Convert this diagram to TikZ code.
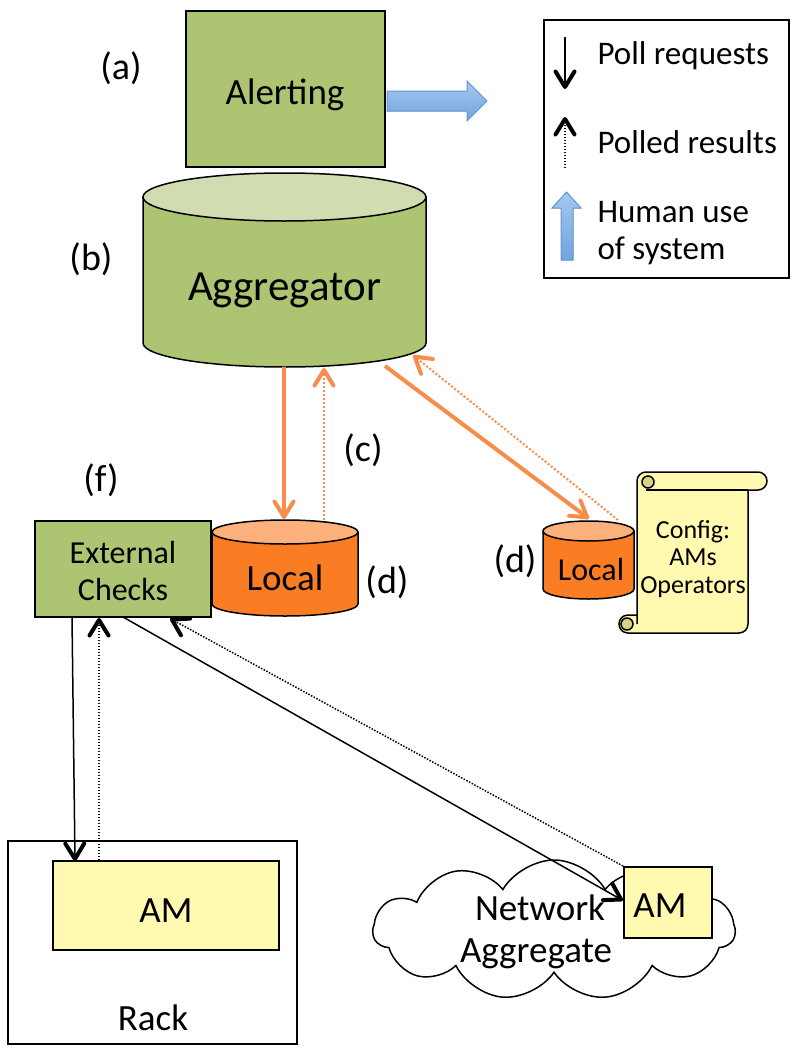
\documentclass[tikz,border=0pt]{standalone}
\usepackage{fontspec}
\setmainfont{Carlito}
\usetikzlibrary{decorations.markings,shapes.symbols}
\definecolor{boxgreen}{RGB}{173,196,114}
\definecolor{topgreen}{RGB}{209,221,176}
\definecolor{bodyorange}{RGB}{250,125,35}
\definecolor{toporange}{RGB}{252,176,124}
\definecolor{lineorange}{RGB}{247,140,75}
\definecolor{amyellow}{RGB}{255,250,176}
\definecolor{curl}{RGB}{215,210,140}
\definecolor{bluetop}{RGB}{165,200,238}
\definecolor{bluebot}{RGB}{112,164,222}
\definecolor{blueedge}{RGB}{100,150,210}
\newcommand{\drawcyl}[7]{%
  \filldraw[fill=#6, line width=1.5pt] ({#1-#4},#2) -- ({#1-#4},#3)
    arc[start angle=180,end angle=0,x radius=#4,y radius=#5] -- ({#1+#4},#2) -- cycle;
  \filldraw[fill=#7, line width=1.5pt] (#1,#2) ellipse[x radius=#4,y radius=#5];}
\tikzset{
  fa/.style={font=\fontsize{43}{50}\selectfont},
  fb/.style={font=\fontsize{37}{44}\selectfont},
  fc/.style={font=\fontsize{33}{37}\selectfont},
  fd/.style={font=\fontsize{32}{37}\selectfont},
  fe/.style={font=\fontsize{26}{27.5}\selectfont},
  flab/.style={font=\fontsize{38}{44}\selectfont},
  greenbox/.style={draw, line width=1.5pt, fill=boxgreen},
  yellowbox/.style={draw, line width=1.5pt, fill=amyellow},
  plainbox/.style={draw, line width=1.5pt},
  human/.style={draw=blueedge, line width=1pt, top color=bluetop, bottom color=bluebot},
  barbtip/.style={postaction={decorate, decoration={markings, mark=at position 1 with
     {\draw[solid, line width=4pt, draw=#1, line cap=round, line join=round]
       (-16.5pt,-9.5pt) -- (-1pt,0pt) -- (-16.5pt,9.5pt);}}}},
  reqline/.style={barbtip=black, line width=1.5pt, black},
  resline/.style={barbtip=black, line width=1.5pt, black, dash pattern=on 1.5pt off 1.5pt},
  oreq/.style={barbtip=lineorange, line width=4pt, lineorange},
  ores/.style={barbtip=lineorange, line width=2pt, lineorange, dash pattern=on 2pt off 2pt},
}
\begin{document}
\begin{tikzpicture}[x=1pt,y=-1pt]
\useasboundingbox (0,0) rectangle (810,1052);
% Alerting
\node[greenbox, minimum width=199pt, minimum height=156pt] (alert) at (285.5,89) {};
\node[fb, anchor=base] (alerttxt) at (285,104) {Alerting};
\filldraw[human] (387,91) -- (467,91) -- (467,81) -- (487,101) -- (467,121) -- (467,111) -- (387,111) -- cycle;
\node[flab] (la) at (121,68) {(a)};
% Aggregator
\drawcyl{284.5}{197}{343}{141.5}{24}{boxgreen}{topgreen}
\node[fa, anchor=base] (agg) at (284.5,300) {Aggregator};
\node[flab] (lb) at (91,259) {(b)};
% Local (left)
\drawcyl{285}{532}{604}{73}{12}{bodyorange}{toporange}
\node[fb, anchor=base] (local1) at (285,590) {Local};
\node[flab] (ld1) at (387,582) {(d)};
% Local (right)
\drawcyl{588.5}{531}{589}{45.5}{10}{bodyorange}{toporange}
\node[fd, anchor=base] (local2) at (591,580) {Local};
\node[flab] (ld2) at (515,561) {(d)};
\node[flab] (lc) at (363,450) {(c)};
% Scroll
\filldraw[fill=amyellow, line width=1.5pt] (637,624) -- (637,481) arc[start angle=180,end angle=270,radius=9]
  -- (758,472) arc[start angle=-90,end angle=90,radius=9] -- (748,490) -- (748,624)
  arc[start angle=0,end angle=90,radius=9] -- (628,633) arc[start angle=90,end angle=270,radius=9]
  -- (637,615) -- cycle;
\draw[line width=1.5pt] (646,490) -- (748,490);
\filldraw[fill=curl, line width=1.5pt] (648,482) circle[radius=6];
\filldraw[fill=curl, line width=1.5pt] (627,624) circle[radius=6];
\node[fe, anchor=base, align=center] (config) at (693,593) {Config:\\AMs\\Operators};
% External checks
\node[greenbox, minimum width=176pt, minimum height=96pt] (ext) at (123,569) {};
\node[fd, anchor=base, align=center] (exttxt) at (123,600) {External\\Checks};
\node[flab] (lf) at (101,480) {(f)};
% Rack
\node[plainbox, minimum width=289pt, minimum height=203pt] (rack) at (152.5,942.5) {};
\node[fb, anchor=base] (racktxt) at (153,1030) {Rack};
\node[yellowbox, minimum width=226pt, minimum height=89pt] (am1) at (166,905.5) {};
\node[fb, anchor=base] (am1txt) at (166,922) {AM};
% Cloud
\node[cloud, draw, line width=1.5pt, fill=white, cloud puffs=11, cloud puff arc=120, cloud ignores aspect,
  minimum width=362pt, minimum height=140pt] (cloud) at (554,930) {};
\node[fb, anchor=base] (nettxt) at (540,920) {Network};
\node[fb, anchor=base] (aggtxt) at (536,962) {Aggregate};
\node[yellowbox, minimum width=88pt, minimum height=71pt] (am2) at (668,902.5) {};
\node[fb, anchor=base] (am2txt) at (660,917) {AM};
% Legend
\node[plainbox, minimum width=245pt, minimum height=258pt] (legend) at (666.5,149) {};
\coordinate (lg1a) at (565,37); \coordinate (lg1b) at (565,88);
\coordinate (lg2a) at (565,168); \coordinate (lg2b) at (565,118);
\draw[reqline] (lg1a) -- (lg1b);
\draw[resline] (lg2a) -- (lg2b);
\filldraw[human] (561,260) -- (561,208) -- (552,208) -- (566.5,192) -- (581,208) -- (573,208) -- (573,260) -- cycle;
\node[fc, anchor=base west] (lt1) at (594,64) {Poll requests};
\node[fc, anchor=base west] (lt2) at (594,153) {Polled results};
\node[fc, anchor=base west] (lt3) at (594,222) {Human use};
\node[fc, anchor=base west] (lt4) at (594,259) {of system};
% connector points
\coordinate (extA) at (72,617); \coordinate (am1A) at (75,860);
\coordinate (extB) at (99,619); \coordinate (am1B) at (99,860);
\coordinate (extC) at (123,617); \coordinate (am2C) at (622,900);
\coordinate (extD) at (171,619); \coordinate (am2D) at (623,866);
\coordinate (aggA) at (284,367); \coordinate (locA) at (284,518);
\coordinate (aggB) at (324,369); \coordinate (locB) at (324,520);
\coordinate (aggC) at (385,366); \coordinate (loc2C) at (588,518);
\coordinate (aggD) at (414,356); \coordinate (loc2D) at (618,520);
\draw[reqline] (extA) -- (am1A);
\draw[resline] (am1B) -- (extB);
\draw[reqline] (extC) -- (am2C);
\draw[resline] (am2D) -- (extD);
\draw[oreq] (aggA) -- (locA);
\draw[ores] (locB) -- (aggB);
\draw[oreq] (aggC) -- (loc2C);
\draw[ores] (loc2D) -- (aggD);
\end{tikzpicture}
\end{document}
